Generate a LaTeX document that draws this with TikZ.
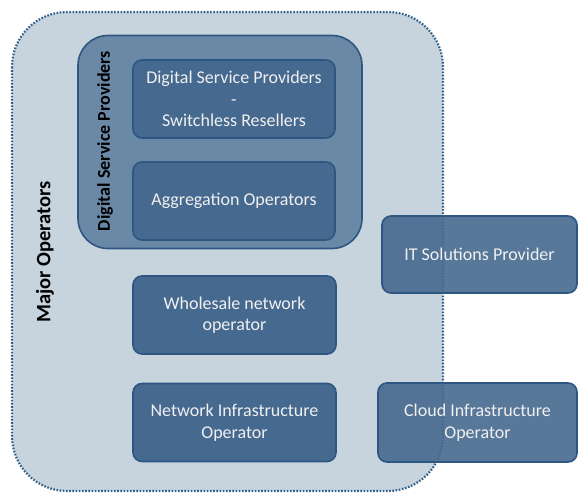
\documentclass[tikz,border=0pt]{standalone}
\usepackage{fontspec}
\setmainfont{Carlito}
\definecolor{outerbg}{HTML}{C7D4DE}
\definecolor{outerline}{HTML}{2E5E8A}
\definecolor{groupfill}{HTML}{6A89A7}
\definecolor{boxfill}{HTML}{46698F}
\definecolor{boxline}{HTML}{2D5681}
\begin{document}
\begin{tikzpicture}[x=1pt,y=-1pt,
  unit/.style={draw=boxline,line width=1.6pt,fill=boxfill,rounded corners=9pt,
    text=white!94!black,font=\fontsize{18}{21.5}\selectfont,align=center},
  label/.style={font=\bfseries,text=black,rotate=90}]
\useasboundingbox (0,0) rectangle (579,497);
% major operators area
\path[fill=outerbg,rounded corners=55pt] (12,12) rectangle (443,491);
% digital service providers group
\node[draw=boxline,line width=1.6pt,fill=groupfill,rounded corners=30pt,
  minimum width=284pt,minimum height=213pt,inner sep=0pt] (dspgroup) at (220,142) {};
\node[unit,minimum width=202pt,minimum height=78pt] (dsp) at (234,99)
  {Digital Service Providers\\-\\Switchless Resellers};
\node[unit,minimum width=202pt,minimum height=78pt] (agg) at (234,201)
  {Aggregation Operators};
\node[unit,minimum width=203pt,minimum height=78pt] (whole) at (234.5,315)
  {Wholesale network\\operator};
\node[unit,minimum width=203pt,minimum height=78pt] (netinf) at (234.5,422.5)
  {Network Infrastructure\\Operator};
\node[label,font=\fontsize{18}{21}\bfseries] (dsplabel) at (105,141) {Digital Service Providers};
\node[label,font=\fontsize{20.5}{24}\bfseries] (majorlabel) at (45,252) {Major Operators};
% dotted outline of the major operators area
\draw[outerline,line width=2.2pt,dash pattern=on 1.6pt off 1.6pt,rounded corners=55pt] (12,12) rectangle (443,491);
% outside providers, partly over the border
\node[unit,fill opacity=0.9,text opacity=1,minimum width=195pt,minimum height=77pt] (it) at (479.5,254.5)
  {IT Solutions Provider};
\node[unit,fill opacity=0.9,text opacity=1,minimum width=199pt,minimum height=79pt] (cloud) at (477.5,422.5)
  {Cloud Infrastructure\\Operator};
\end{tikzpicture}
\end{document}
